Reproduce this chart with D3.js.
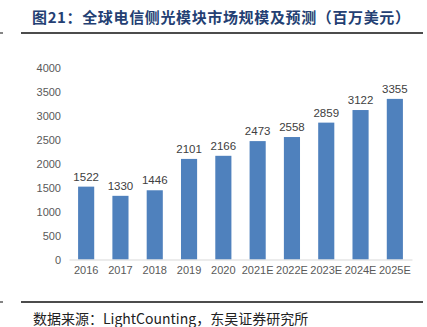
<!DOCTYPE html>
<html>
<head>
<meta charset="utf-8">
<script src="https://cdn.jsdelivr.net/npm/d3@7"></script>
<style>
  html, body { margin: 0; padding: 0; background: #fff; }
  svg { display: block; }
</style>
</head>
<body>
<svg id="chart" width="427" height="327"></svg>
<script>
// Global telecom-side optical module market size, million USD
const years = ["2016", "2017", "2018", "2019", "2020", "2021E", "2022E", "2023E", "2024E", "2025E"];
const values = [1522, 1330, 1446, 2101, 2166, 2473, 2558, 2859, 3122, 3355];
const yTicks = [0, 500, 1000, 1500, 2000, 2500, 3000, 3500, 4000];

const svg = d3.select("#chart");
const plot = { left: 69, right: 412, top: 68, bottom: 259.5 };

// Header with rule lines
svg.append("text")
  .attr("x", 32).attr("y", 23)
  .attr("font-family", "'Noto Sans CJK SC', sans-serif")
  .attr("font-size", 15).attr("font-weight", "bold")
  .attr("fill", "#243f73")
  .attr("textLength", 378).attr("lengthAdjust", "spacing")
  .text("图21：全球电信侧光模块市场规模及预测（百万美元）");

svg.append("line").attr("x1", 21).attr("x2", 423).attr("y1", 33).attr("y2", 33)
  .attr("stroke", "#111").attr("stroke-width", 1.5);
svg.append("line").attr("x1", 0).attr("x2", 3).attr("y1", 33).attr("y2", 33)
  .attr("stroke", "#333").attr("stroke-width", 1.2);

svg.append("line").attr("x1", 21).attr("x2", 423).attr("y1", 302).attr("y2", 302)
  .attr("stroke", "#111").attr("stroke-width", 1.5);
svg.append("line").attr("x1", 0).attr("x2", 3).attr("y1", 302).attr("y2", 302)
  .attr("stroke", "#333").attr("stroke-width", 1.2);

// Source note
svg.append("text")
  .attr("x", 33).attr("y", 324)
  .attr("font-family", "'Noto Sans CJK SC', sans-serif")
  .attr("font-size", 14)
  .attr("fill", "#222")
  .text("数据来源：LightCounting，东吴证券研究所");

// Scales
const x = d3.scaleBand().domain(years).range([plot.left, plot.right]).paddingInner(0.53).paddingOuter(0.265);
const y = d3.scaleLinear().domain([0, 4000]).range([plot.bottom, plot.top]);

// Y axis (labels only)
const yAxis = svg.append("g")
  .attr("transform", `translate(${plot.left - 8},0)`)
  .call(d3.axisLeft(y).tickValues(yTicks).tickFormat(d3.format("d")).tickSize(0).tickPadding(0));
yAxis.select(".domain").remove();
yAxis.selectAll("text")
  .attr("font-family", "'Liberation Sans', Arial, sans-serif")
  .attr("font-size", 11).attr("fill", "#595959");

// Bars
svg.append("g").selectAll("rect")
  .data(years)
  .join("rect")
  .attr("x", d => x(d))
  .attr("width", x.bandwidth())
  .attr("y", (d, i) => y(values[i]))
  .attr("height", (d, i) => y(0) - y(values[i]))
  .attr("fill", "#4f81bd");

// Value labels
svg.append("g").selectAll("text")
  .data(years)
  .join("text")
  .attr("x", d => x(d) + x.bandwidth() / 2)
  .attr("y", (d, i) => y(values[i]) - 6)
  .attr("text-anchor", "middle")
  .attr("font-family", "'Liberation Sans', Arial, sans-serif")
  .attr("font-size", 11.5).attr("fill", "#404040")
  .text((d, i) => values[i]);

// X axis
const xAxis = svg.append("g")
  .attr("transform", `translate(0,${plot.bottom})`)
  .call(d3.axisBottom(x).tickSize(0).tickPadding(7));
xAxis.select(".domain").attr("stroke", "#d9d9d9").attr("stroke-width", 1);
xAxis.selectAll("text")
  .attr("font-family", "'Liberation Sans', Arial, sans-serif")
  .attr("font-size", 11).attr("fill", "#595959");
</script>
</body>
</html>
